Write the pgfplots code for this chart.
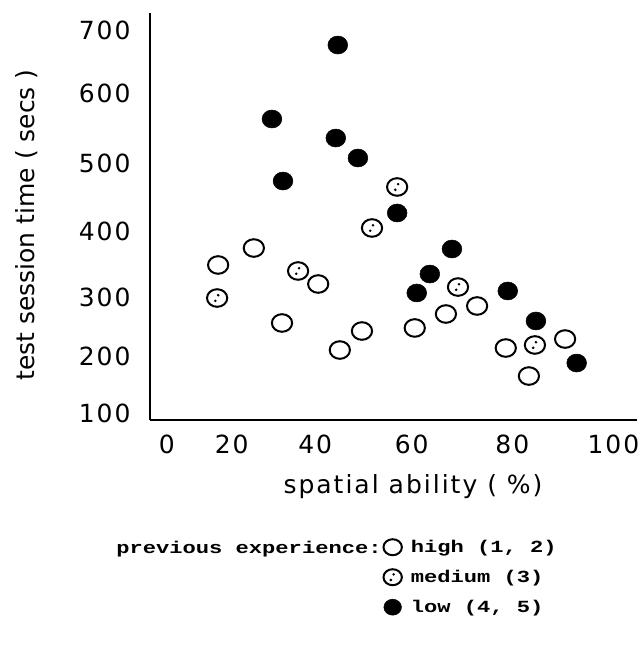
\documentclass[border=0pt]{standalone}
\usepackage{fontspec}
\setmainfont{DejaVu Sans}
\newfontfamily\geneva[LetterSpace=8]{DejaVu Sans}
\newfontfamily\genevaplain{DejaVu Sans}
\newfontfamily\legfont{Liberation Mono}
\usepackage{pgfplots}
\pgfplotsset{compat=1.18}
\usepackage{pgfplotstable}
\usetikzlibrary{calc}

\pgfdeclareplotmark{oell}{%
  \pgfpathellipse{\pgfpointorigin}{\pgfpoint{1.15\pgfplotmarksize}{0pt}}{\pgfpoint{0pt}{\pgfplotmarksize}}%
  \pgfusepathqstroke}
\pgfdeclareplotmark{fell}{%
  \pgfpathellipse{\pgfpointorigin}{\pgfpoint{1.1\pgfplotmarksize}{0pt}}{\pgfpoint{0pt}{\pgfplotmarksize}}%
  \pgfusepathqfillstroke}
\pgfdeclareplotmark{mell}{%
  \pgfpathellipse{\pgfpointorigin}{\pgfpoint{1.15\pgfplotmarksize}{0pt}}{\pgfpoint{0pt}{\pgfplotmarksize}}%
  \pgfusepathqstroke
  \pgfsetfillcolor{black}%
  \pgfpathcircle{\pgfpoint{1bp}{2.8bp}}{1.4bp}%
  \pgfpathcircle{\pgfpoint{-1.8bp}{-2.8bp}}{1.4bp}%
  \pgfusepathqfill}

\pgfplotstableread{
x y
21.5 339.9
28.6 366.1
34.2 250.2
41.4 310.5
45.7 208.4
50.1 237.8
60.6 242.5
66.8 264.1
73.0 276.5
78.7 211.5
83.3 168.2
90.5 225.4
}\high
\pgfplotstableread{
x y
21.3 288.8
37.4 330.6
52.1 397.1
57.1 460.5
69.2 305.8
84.5 216.2
}\medium
\pgfplotstableread{
x y
32.2 565.6
34.4 469.7
44.9 536.2
45.3 680.0
49.3 505.3
57.1 420.3
61.0 296.6
63.6 325.9
68.0 364.6
79.1 299.7
84.7 253.3
92.8 188.3
}\low

\begin{document}
\begin{tikzpicture}
\begin{axis}[
  name=ax,
  scale only axis,
  width=487bp, height=407bp,
  xmin=7.95, xmax=104.8, ymin=100.2, ymax=729.5,
  axis x line*=bottom, axis y line*=left,
  axis line style={line width=2bp, -},
  xtick={11.3,24.2,40.8,60,80,100.1},
  xticklabels={0,20,40,60,80,100},
  ytick={111.1,199.2,290.4,392.4,497.6,605.8,703.3},
  yticklabels={100,200,300,400,500,600,700},
  major tick length=0pt,
  /pgf/number format/assume math mode=true,
  tick label style={font=\geneva\fontsize{25bp}{29bp}\selectfont},
  xticklabel style={anchor=center, yshift=-24bp},
  yticklabel style={anchor=east, xshift=-16bp},
  xlabel={spatial ability ( \%)},
  ylabel={test session time ( secs )},
  xlabel style={font=\geneva\fontsize{25bp}{29bp}\selectfont, at={(rel axis cs:0.54,-0.1646)}, anchor=center},
  ylabel style={font=\genevaplain\fontsize{25bp}{29bp}\selectfont, at={(rel axis cs:-0.2526,0.479)}, anchor=center},
  clip=false,
  legend style={draw=none, fill=none, at={(rel axis cs:0.479,-0.2924)}, anchor=north west,
    inner sep=0pt, row sep=14bp, column sep=9bp,
    font=\legfont\bfseries\fontsize{17bp}{20bp}\selectfont,
    nodes={inner sep=0pt}},
  legend image post style={mark size=8bp},
  legend cell align=left,
]
\addplot[only marks, mark=oell, mark size=8.8bp, mark options={line width=2bp, draw=black}] table {\high};
\addlegendentry{\scalebox{1.3}[1]{high (1, 2)}}
\addplot[only marks, mark=mell, mark size=8.8bp, mark options={line width=2bp, draw=black}] table {\medium};
\addlegendentry{\scalebox{1.3}[1]{medium (3)}}
\addplot[only marks, mark=fell, mark size=9bp, mark options={line width=0.5bp, draw=black, fill=black}] table {\low};
\addlegendentry{\scalebox{1.3}[1]{low (4, 5)}}
\node[anchor=base east, inner sep=0pt, font=\legfont\bfseries\fontsize{17bp}{20bp}\selectfont]
  at (rel axis cs:0.476,-0.328) {\scalebox{1.3}[1]{previous experience:}};
\end{axis}
\pgfresetboundingbox
\path[use as bounding box] ($(ax.south west)+(-150bp,-231bp)$) rectangle ($(ax.north east)+(6bp,13bp)$);
\end{tikzpicture}
\end{document}
